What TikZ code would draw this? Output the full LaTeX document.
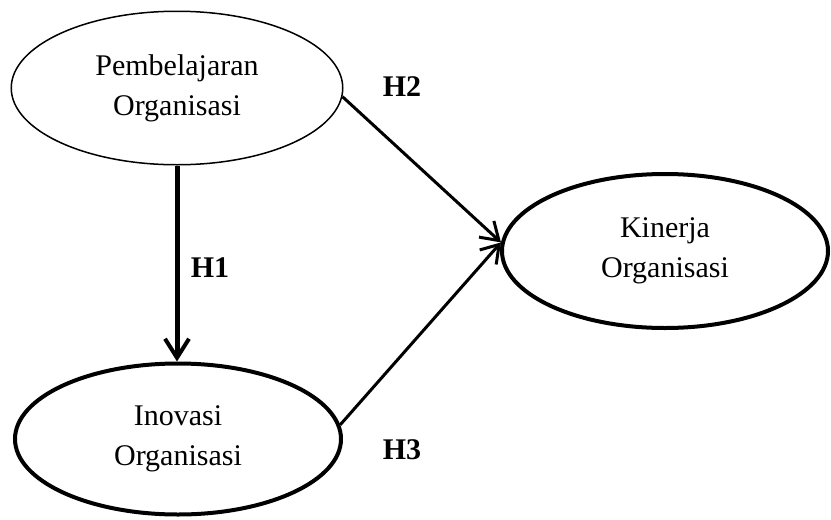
\documentclass[tikz,border=0pt]{standalone}
\usepackage{fontspec}
\setmainfont{Liberation Serif}
\usetikzlibrary{arrows.meta,shapes.geometric}
\begin{document}
\begin{tikzpicture}[x=1pt,y=-1pt,
  latent/.style={ellipse,draw,inner sep=0pt,align=center,
    font=\fontsize{30}{40}\selectfont},
  thinline/.style={line width=1.5pt},
  thickline/.style={line width=4pt},
  hyp/.style={font=\fontsize{30}{36}\selectfont\bfseries},
  conn/.style={line width=3pt,-{Straight Barb[length=17pt,width=22pt,line width=3pt]}},
  vconn/.style={line width=5pt,-{Straight Barb[length=19pt,width=24pt,line width=4pt]}}]
\useasboundingbox (0,0) rectangle (831,520);
\node[latent,thinline,minimum width=331.5pt,minimum height=153.5pt] (po) at (177,88) {Pembelajaran\\Organisasi};
\node[latent,thickline,minimum width=326pt,minimum height=151pt] (io) at (178,439) {Inovasi\\Organisasi};
\node[latent,thickline,minimum width=326pt,minimum height=154pt] (ko) at (665,251) {Kinerja\\Organisasi};
\coordinate (join) at (ko.177);
\draw[vconn] (po.south) -- (po.south |- io.north);
\draw[conn] (po.-3) -- (join);
\draw[conn] (io.5) -- (join);
\node[hyp] (h1) at (210,268) {H1};
\node[hyp] (h2) at (402,87) {H2};
\node[hyp] (h3) at (402,450) {H3};
\end{tikzpicture}
\end{document}
